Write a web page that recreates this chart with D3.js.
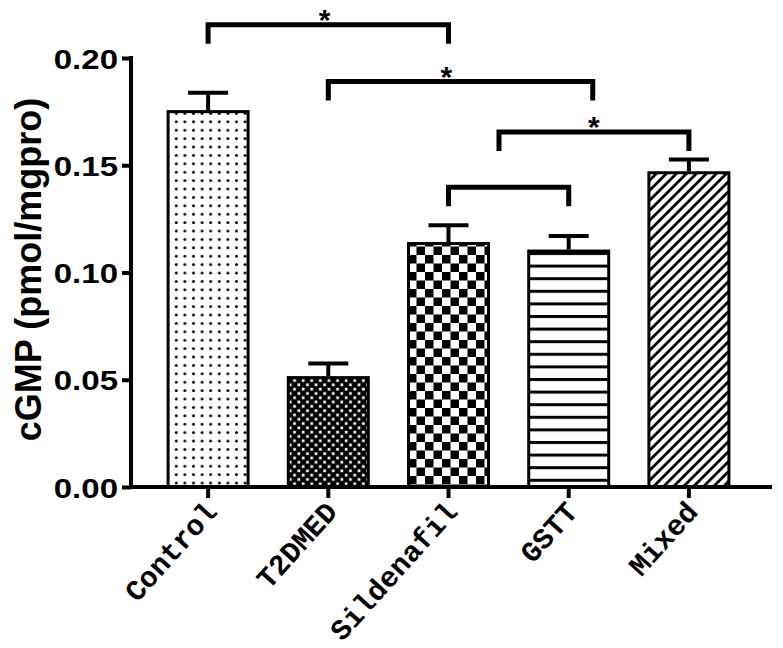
<!DOCTYPE html>
<html><head><meta charset="utf-8">
<script src="https://cdn.jsdelivr.net/npm/d3@7"></script>
<style>html,body{margin:0;padding:0;background:#fff;}</style>
</head><body>
<svg id="chart" width="783" height="648"></svg>
<script>
const categories = ["Control", "T2DMED", "Sildenafil", "GSTT", "Mixed"];
const means = [0.175, 0.051, 0.1135, 0.110, 0.1465];
const errors = [0.0088, 0.0066, 0.0085, 0.0070, 0.0062];
const patterns = ["dots", "fineCheck", "check", "hlines", "diag"];
const yTicks = [0.00, 0.05, 0.10, 0.15, 0.20];
const yTitle = "cGMP (pmol/mgpro)";
// significance brackets
const bracketFrom = ["Control", "T2DMED", "Sildenafil", "Sildenafil"];
const bracketFromShift = [0, 0, 0.42, 0];
const bracketTo = ["Sildenafil", "GSTT", "Mixed", "GSTT"];
const bracketToShift = [0, 0.2, 0, 0];
const bracketLevel = [0.2155, 0.189, 0.1655, 0.1398];
const bracketLabel = ["*", "*", "*", ""];
const starAt = [0.485, 0.446, 0.5, 0.5];

const svg = d3.select("#chart");
svg.append("rect").attr("width", 783).attr("height", 648).attr("fill", "#fff");
const defs = svg.append("defs");

// patterns
{
  let p = defs.append("pattern").attr("id", "dots").attr("patternUnits", "userSpaceOnUse").attr("width", 8.6).attr("height", 8.4);
  p.append("rect").attr("width", 8.6).attr("height", 8.4).attr("fill", "#fff");
  p.append("circle").attr("cx", 4.3).attr("cy", 4.2).attr("r", 1.5).attr("fill", "#000");

  p = defs.append("pattern").attr("id", "fineCheck").attr("patternUnits", "userSpaceOnUse").attr("width", 8.6).attr("height", 8.6);
  p.append("rect").attr("width", 8.6).attr("height", 8.6).attr("fill", "#000");
  p.append("rect").attr("x", 0.8).attr("y", 0.8).attr("width", 2.7).attr("height", 2.7).attr("fill", "#fff");
  p.append("rect").attr("x", 5.1).attr("y", 5.1).attr("width", 2.7).attr("height", 2.7).attr("fill", "#fff");

  p = defs.append("pattern").attr("id", "check").attr("patternUnits", "userSpaceOnUse").attr("width", 17).attr("height", 17);
  p.append("rect").attr("width", 17).attr("height", 17).attr("fill", "#fff");
  p.append("rect").attr("width", 8.5).attr("height", 8.5).attr("fill", "#000");
  p.append("rect").attr("x", 8.5).attr("y", 8.5).attr("width", 8.5).attr("height", 8.5).attr("fill", "#000");

  p = defs.append("pattern").attr("id", "hlines").attr("patternUnits", "userSpaceOnUse").attr("width", 10).attr("height", 12.6);
  p.append("rect").attr("width", 10).attr("height", 12.6).attr("fill", "#fff");
  p.append("rect").attr("y", 0).attr("width", 10).attr("height", 3).attr("fill", "#000");

  p = defs.append("pattern").attr("id", "diag").attr("patternUnits", "userSpaceOnUse").attr("width", 10).attr("height", 10);
  p.append("rect").attr("width", 10).attr("height", 10).attr("fill", "#fff");
  p.append("path").attr("d", "M-2.5,2.5 L2.5,-2.5 M0,10 L10,0 M7.5,12.5 L12.5,7.5").attr("stroke", "#000").attr("stroke-width", 2.8);
}

const x = d3.scaleBand().domain(categories).range([148, 749]).padding(0);
const y = d3.scaleLinear().domain([0, 0.2]).range([487, 58]);
const step = x.step();
const cx = c => x(c) + x.bandwidth() / 2;
const barW = 80;

// bars
const bars = svg.append("g");
categories.forEach((c, i) => {
  bars.append("rect")
    .attr("x", cx(c) - barW / 2).attr("y", y(means[i]))
    .attr("width", barW).attr("height", y(0) - y(means[i]))
    .attr("fill", `url(#${patterns[i]})`)
    .attr("stroke", "#000").attr("stroke-width", 3);
  bars.append("line").attr("x1", cx(c)).attr("x2", cx(c))
    .attr("y1", y(means[i]) - 1.5).attr("y2", y(means[i] + errors[i]))
    .attr("stroke", "#000").attr("stroke-width", 4);
  bars.append("line").attr("x1", cx(c) - 20).attr("x2", cx(c) + 20)
    .attr("y1", y(means[i] + errors[i])).attr("y2", y(means[i] + errors[i]))
    .attr("stroke", "#000").attr("stroke-width", 4);
});

// y axis
const yAxis = svg.append("g").attr("transform", "translate(131,0)")
  .call(d3.axisLeft(y).tickValues(yTicks).tickFormat(d3.format(".2f")).tickSize(9).tickPadding(0));
yAxis.select(".domain").remove();
yAxis.append("line").attr("x1", 0).attr("x2", 0).attr("y1", y(0.2) - 2).attr("y2", y(0) + 2)
  .attr("stroke", "#000").attr("stroke-width", 4);
yAxis.selectAll(".tick line").attr("stroke", "#000").attr("stroke-width", 4);
yAxis.selectAll(".tick text")
  .attr("font-family", "Liberation Sans, Arial, sans-serif").attr("font-weight", "bold")
  .attr("font-size", 28).attr("fill", "#000")
  .attr("x", -13 / 1.18).attr("dy", "0.36em")
  .attr("transform", "scale(1.18,1)");

// x axis
const xAxis = svg.append("g").attr("transform", `translate(0,${y(0)})`)
  .call(d3.axisBottom(x).tickSize(11).tickPadding(0).tickFormat(""));
xAxis.select(".domain").remove();
xAxis.append("line").attr("x1", 129).attr("x2", 772).attr("y1", 0).attr("y2", 0)
  .attr("stroke", "#000").attr("stroke-width", 4);
xAxis.selectAll(".tick line").attr("stroke", "#000").attr("stroke-width", 4);

const xl = svg.append("g");
categories.forEach(c => {
  xl.append("text")
    .attr("transform", `translate(${cx(c) + 3},${y(0) + 19}) rotate(-48)`)
    .attr("text-anchor", "end").attr("dy", "0.35em")
    .attr("font-family", "Liberation Mono, monospace").attr("font-weight", "bold")
    .attr("font-size", 29).attr("fill", "#000")
    .text(c);
});

// y title
svg.append("text")
  .attr("transform", `translate(41,${(92 + 447) / 2}) rotate(-90)`)
  .attr("text-anchor", "middle")
  .attr("font-family", "Liberation Sans, Arial, sans-serif").attr("font-weight", "bold")
  .attr("font-size", 36).attr("fill", "#000")
  .text(yTitle);

// brackets
const br = svg.append("g");
bracketFrom.forEach((f, i) => {
  const x1 = cx(f) + bracketFromShift[i] * step;
  const x2 = cx(bracketTo[i]) + bracketToShift[i] * step;
  const yt = y(bracketLevel[i]);
  const leg = 19;
  br.append("path")
    .attr("d", `M${x1},${yt + leg} V${yt} H${x2} V${yt + leg}`)
    .attr("fill", "none").attr("stroke", "#000").attr("stroke-width", 5);
  if (bracketLabel[i]) {
    br.append("text")
      .attr("x", x1 + (x2 - x1) * starAt[i]).attr("y", yt + 5)
      .attr("text-anchor", "middle")
      .attr("font-family", "Liberation Sans, Arial, sans-serif").attr("font-weight", "bold")
      .attr("font-size", 30).attr("fill", "#000")
      .text(bracketLabel[i]);
  }
});
</script>
</body></html>
